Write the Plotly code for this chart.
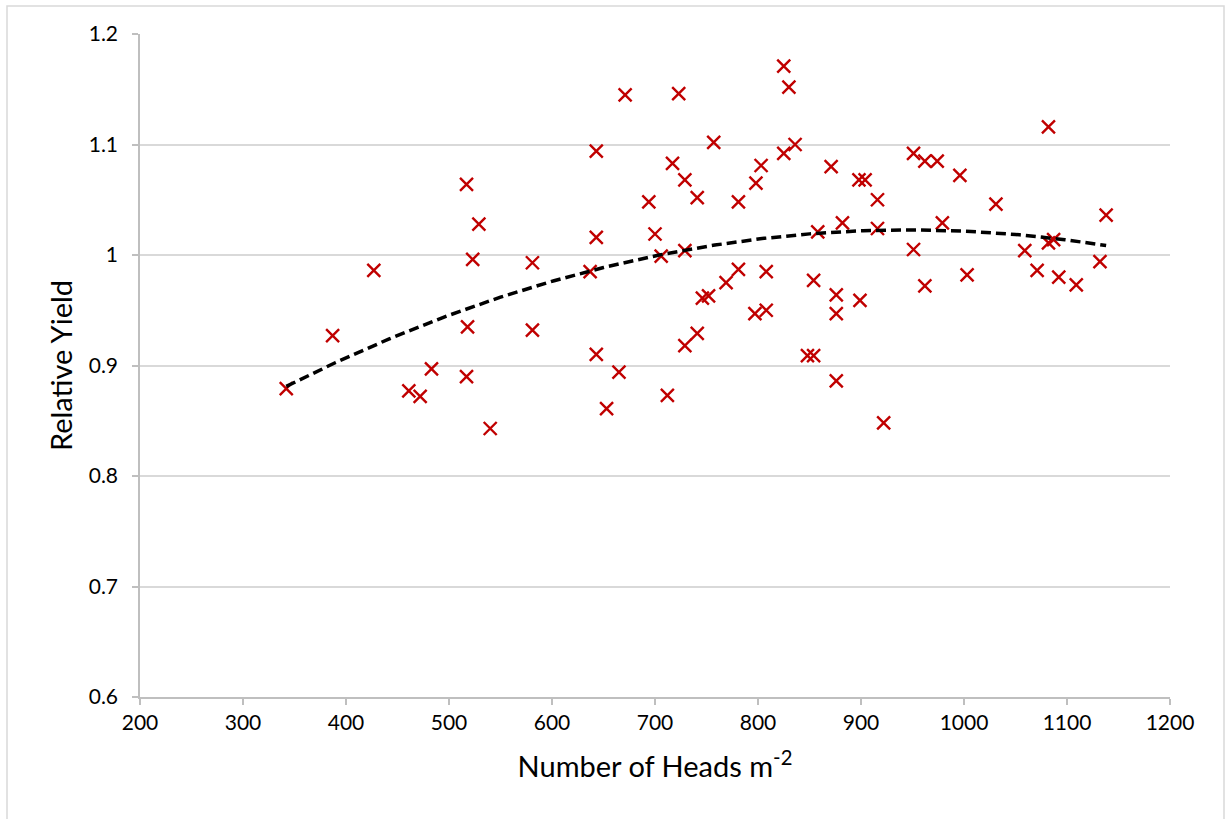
import numpy as np
import plotly.graph_objects as go

heads = [342, 387, 427, 461, 472, 483, 517, 518, 517, 523, 529, 540, 581, 581,
         637, 643, 643, 643, 653, 665, 671, 694, 700, 706, 712, 717, 723, 729,
         729, 729, 741, 741, 746, 752, 757, 769, 781, 781, 797, 798, 803, 808,
         808, 825, 825, 830, 836, 848, 854, 854, 858, 871, 876, 876, 876, 882,
         898, 904, 899, 916, 916, 922, 951, 951, 962, 962, 974, 979, 996, 1003,
         1031, 1059, 1071, 1082, 1082, 1087, 1092, 1109, 1132, 1138]
rel_yield = [0.879, 0.927, 0.986, 0.877, 0.872, 0.897, 1.064, 0.935, 0.890, 0.996,
             1.028, 0.843, 0.993, 0.932, 0.985, 1.016, 1.094, 0.910, 0.861, 0.894,
             1.145, 1.048, 1.019, 0.999, 0.873, 1.083, 1.146, 1.068, 1.004, 0.918,
             1.052, 0.929, 0.961, 0.963, 1.102, 0.975, 1.048, 0.987, 0.947, 1.065,
             1.081, 0.950, 0.985, 1.171, 1.092, 1.152, 1.100, 0.909, 0.909, 0.977,
             1.021, 1.080, 0.964, 0.947, 0.886, 1.029, 1.068, 1.068, 0.959, 1.050,
             1.024, 0.848, 1.092, 1.005, 1.085, 0.972, 1.085, 1.029, 1.072, 0.982,
             1.046, 1.004, 0.986, 1.116, 1.011, 1.014, 0.980, 0.973, 0.994, 1.036]

x_ticks = [200, 300, 400, 500, 600, 700, 800, 900, 1000, 1100, 1200]
y_ticks = [0.6, 0.7, 0.8, 0.9, 1.0, 1.1, 1.2]

coef = np.polyfit(heads, rel_yield, 2)
xf = np.linspace(min(heads), max(heads), 200)
yf = np.polyval(coef, xf)

FONT = "Lato"
RED = "#C00000"

fig = go.Figure()
fig.add_trace(go.Scatter(x=heads, y=rel_yield, mode="markers",
                         marker=dict(symbol="x-thin", size=13, color=RED,
                                     line=dict(width=2.4, color=RED)),
                         showlegend=False, hoverinfo="x+y"))
fig.add_trace(go.Scatter(x=xf, y=yf, mode="lines",
                         line=dict(color="black", width=3.5, dash="10px,5px"),
                         showlegend=False, hoverinfo="skip"))

fig.update_layout(
    width=1229, height=819,
    margin=dict(l=140, r=59, t=34, b=122),
    paper_bgcolor="white", plot_bgcolor="white",
    font=dict(family=FONT, color="black", size=21),
    xaxis=dict(range=[200, 1200], tickvals=x_ticks, showgrid=False,
               showline=True, linecolor="#BFBFBF", linewidth=1.5,
               ticks="outside", ticklen=6, tickcolor="#BFBFBF", tickwidth=1.5,
               tickfont=dict(size=21, family=FONT), zeroline=False,
               title=dict(text="Number of Heads m<sup>-2</sup>",
                          font=dict(size=29, family=FONT), standoff=24)),
    yaxis=dict(range=[0.6, 1.2], tickvals=y_ticks, showgrid=True,
               gridcolor="#D9D9D9", gridwidth=1.5,
               showline=True, linecolor="#BFBFBF", linewidth=1.5,
               ticks="outside", ticklen=6, tickcolor="#BFBFBF", tickwidth=1.5,
               ticklabelstandoff=10,
               tickfont=dict(size=21, family=FONT), zeroline=False,
               title=dict(text="Relative Yield",
                          font=dict(size=29, family=FONT), standoff=8)),
    shapes=[dict(type="rect", xref="paper", yref="paper",
                 x0=(7 - 140) / 1030, x1=(1224 - 140) / 1030,
                 y0=(697 - 840) / 663, y1=(697 - 6) / 663,
                 line=dict(color="#D9D9D9", width=1.5), layer="below")],
)

fig.write_html("out.html")
